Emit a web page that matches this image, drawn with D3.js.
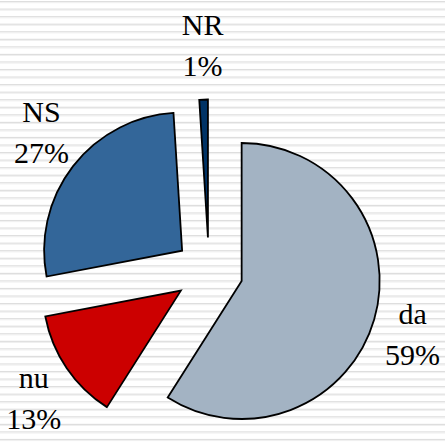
<!DOCTYPE html>
<html>
<head>
<meta charset="utf-8">
<script src="https://cdn.jsdelivr.net/npm/d3@7"></script>
<style>
  html, body { margin: 0; padding: 0; background: #fff; }
  svg { display: block; }
</style>
</head>
<body>
<svg id="chart" width="445" height="442"></svg>
<script>
// Survey answers and their shares (percent)
const categories = ["da", "nu", "NS", "NR"];
const values = [59, 13, 27, 1];
const colors = ["#A3B3C3", "#CC0000", "#336699", "#003366"];

const W = 445, H = 442;
const cx = 209, cy = 271.5;
const radius = 138;
const explode = 34;
const labelGap = 13;
const lineGap = 41;
const blockHeight = 82;
const charWidth = 18; // rough average glyph width at 30px
const labelFont = '"Liberation Serif"';

const svg = d3.select("#chart");

// Striped backdrop
const stripeY = d3.range(1, H, 7.55);
const bg = svg.append("g");
bg.selectAll("rect.s1").data(stripeY).join("rect")
  .attr("x", 0).attr("width", W)
  .attr("y", d => d).attr("height", 1.2)
  .attr("fill", "#dedede");
bg.selectAll("rect.s2").data(stripeY).join("rect")
  .attr("x", 0).attr("width", W)
  .attr("y", d => d + 1.2).attr("height", 1)
  .attr("fill", "#efefef");

const data = categories.map((c, i) => ({ name: c, value: values[i], color: colors[i] }));

const pie = d3.pie().value(d => d.value).sort(null);
const arcs = pie(data);

const arc = d3.arc().innerRadius(0).outerRadius(radius);

const g = svg.append("g").attr("transform", `translate(${cx},${cy})`);

function mid(d) { return (d.startAngle + d.endAngle) / 2; }

g.selectAll("path").data(arcs).join("path")
  .attr("d", arc)
  .attr("transform", d => {
    const a = mid(d);
    return `translate(${explode * Math.sin(a)},${-explode * Math.cos(a)})`;
  })
  .attr("fill", d => d.data.color)
  .attr("stroke", "#000")
  .attr("stroke-width", 1.8)
  .attr("stroke-linejoin", "miter");

// Two-line labels placed just outside each exploded slice
const labels = g.selectAll("g.lbl").data(arcs).join("g")
  .attr("class", "lbl")
  .attr("transform", d => {
    const a = mid(d);
    const dx = Math.sin(a), dy = -Math.cos(a);
    const w = charWidth * Math.max(d.data.name.length, (d.data.value + "%").length);
    const r0 = radius + explode + labelGap;
    return `translate(${r0 * dx + dx * w / 2},${r0 * dy + dy * blockHeight / 2})`;
  });

labels.append("text")
  .attr("text-anchor", "middle")
  .attr("y", -10.5)
  .style("font-family", labelFont)
  .style("font-size", "30px")
  .attr("fill", "#000")
  .text(d => d.data.name);

labels.append("text")
  .attr("text-anchor", "middle")
  .attr("y", -10.5 + lineGap)
  .style("font-family", labelFont)
  .style("font-size", "30px")
  .attr("fill", "#000")
  .text(d => d.data.value + "%");
</script>
</body>
</html>
